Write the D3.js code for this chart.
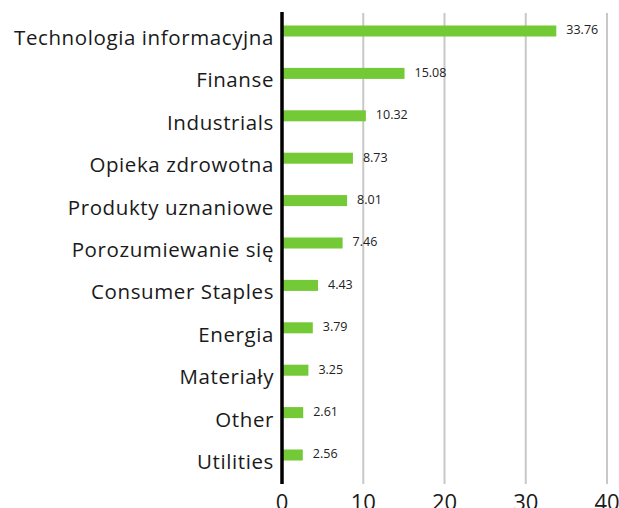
<!DOCTYPE html>
<html>
<head>
<meta charset="utf-8">
<script src="https://cdn.jsdelivr.net/npm/d3@7"></script>
<style>
  html, body { margin: 0; padding: 0; background: #fff; }
  svg { display: block; font-family: "Open Sans", sans-serif; }
</style>
</head>
<body>
<div id="chart"></div>
<script>
// sector names and weights
const sectors = [
  "Technologia informacyjna", "Finanse", "Industrials", "Opieka zdrowotna",
  "Produkty uznaniowe", "Porozumiewanie się", "Consumer Staples", "Energia",
  "Materiały", "Other", "Utilities"
];
const weights = [33.76, 15.08, 10.32, 8.73, 8.01, 7.46, 4.43, 3.79, 3.25, 2.61, 2.56];
const xTicks = [0, 10, 20, 30, 40];

const width = 619;
const height = 508;
const x0 = 282, x1 = 607;

const svg = d3.select("#chart").append("svg")
  .attr("width", width)
  .attr("height", height);

const x = d3.scaleLinear().domain([0, 40]).range([x0, x1]);
const y = d3.scaleBand().domain(sectors).range([9.8, 476.2])
  .paddingInner(0.74).paddingOuter(0.37);

// grid lines
svg.append("g").selectAll("line")
  .data(xTicks.filter(d => d > 0))
  .enter().append("line")
  .attr("x1", d => x(d)).attr("x2", d => x(d))
  .attr("y1", 13).attr("y2", 484)
  .attr("stroke", "#c8c8c8")
  .attr("stroke-width", 2);

// bars
svg.append("g").selectAll("rect")
  .data(weights)
  .enter().append("rect")
  .attr("x", x(0))
  .attr("y", (d, i) => y(sectors[i]))
  .attr("width", d => x(d) - x(0))
  .attr("height", y.bandwidth())
  .attr("fill", "#74c936");

// value labels
svg.append("g").selectAll("text")
  .data(weights)
  .enter().append("text")
  .attr("x", d => x(d) + 10)
  .attr("y", (d, i) => y(sectors[i]) + y.bandwidth() / 2 - 1)
  .attr("dy", "0.35em")
  .attr("font-size", 12.5)
  .attr("fill", "#222")
  .text(d => d.toFixed(2));

// category labels
svg.append("g").selectAll("text")
  .data(sectors)
  .enter().append("text")
  .attr("x", x0 - 8)
  .attr("y", d => y(d) + y.bandwidth() / 2 + 14)
  .attr("text-anchor", "end")
  .attr("font-size", 20.5)
  .attr("letter-spacing", 0.6)
  .attr("fill", "#1a1a1a")
  .text(d => d);

// zero axis line
svg.append("line")
  .attr("x1", x(0)).attr("x2", x(0))
  .attr("y1", 12).attr("y2", 484)
  .attr("stroke", "#000")
  .attr("stroke-width", 3.5);

// x tick labels
svg.append("g").selectAll("text")
  .data(xTicks)
  .enter().append("text")
  .attr("x", d => x(d))
  .attr("y", 510)
  .attr("text-anchor", "middle")
  .attr("font-size", 22)
  .attr("fill", "#1a1a1a")
  .text(d => d);
</script>
</body>
</html>
